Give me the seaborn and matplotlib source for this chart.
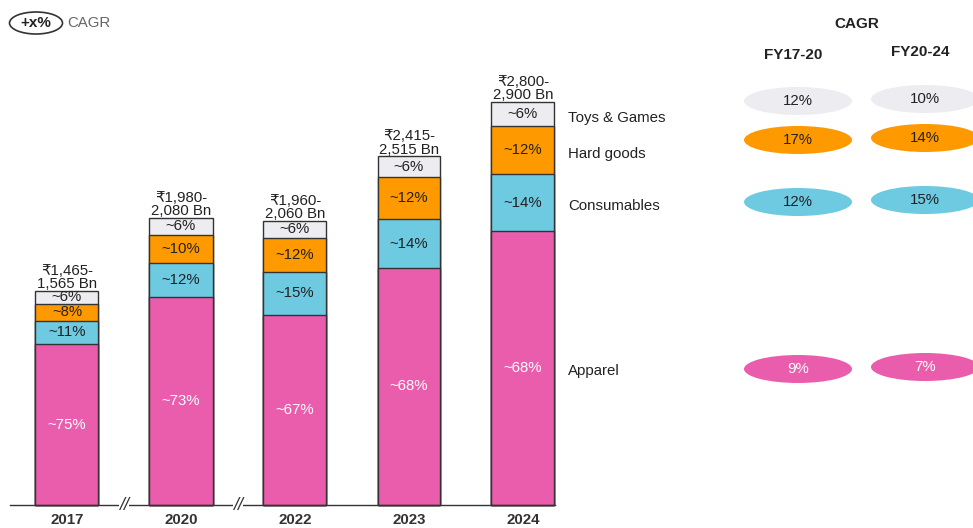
import matplotlib.pyplot as plt
import seaborn as sns
import numpy as np
from matplotlib.patches import Ellipse

# Data
years = ['2017', '2020', '2022', '2023', '2024']
size_low = [1465, 1980, 1960, 2415, 2800]
size_high = [1565, 2080, 2060, 2515, 2900]

# segment shares (%) bottom -> top
categories = ['Apparel', 'Consumables', 'Hard goods', 'Toys & Games']
apparel = [75, 73, 67, 68, 68]
consumables = [11, 12, 15, 14, 14]
hard_goods = [8, 10, 12, 12, 12]
toys_games = [6, 6, 6, 6, 6]

cagr_periods = ['FY17-20', 'FY20-24']
cagr_17_20 = [9, 12, 17, 12]   # apparel, consumables, hard goods, toys & games
cagr_20_24 = [7, 15, 14, 10]

colors = ['#EA5DAD', '#6DCAE1', '#FF9900', '#EDEDF1']
text_colors = ['white', '#222222', '#222222', '#222222']

sns.set_theme(style='white')
plt.rcParams['font.family'] = ['Liberation Sans', 'DejaVu Sans']
FS = 10.8

W, H = 973, 528
fig = plt.figure(figsize=(W / 100, H / 100), dpi=100)
ax = fig.add_axes([0, 0, 1, 1])

# stacked heights: shares scaled to mid-point of the market size range
mid = (np.array(size_low) + np.array(size_high)) / 2
shares = np.array([apparel, consumables, hard_goods, toys_games], dtype=float)
heights = shares / shares.sum(axis=0) * mid
cum = np.cumsum(heights, axis=0)

bar_w = 63 / 114
# draw from the tallest cumulative layer down so each segment sits on top
for i in range(3, -1, -1):
    sns.barplot(x=years, y=cum[i], order=years, color=colors[i], width=bar_w,
                edgecolor='#333333', linewidth=1, saturation=1, ax=ax)

# segment labels
for j in range(len(years)):
    for i in range(4):
        yc = cum[i, j] - heights[i, j] / 2
        ax.text(j, yc, f'~{int(shares[i, j])}%', ha='center', va='center',
                fontsize=FS, color=text_colors[i])
    ax.text(j, cum[3, j] - 2, f'₹{size_low[j]:,}-\n{size_high[j]:,} Bn',
            ha='center', va='bottom', fontsize=FS, color='#222222', linespacing=0.95)

# category names beside the last bar
for i in range(4):
    yc = cum[i, -1] - heights[i, -1] / 2
    ax.text(4.395, yc - 25, categories[i], ha='left', va='center', fontsize=FS, color='#222222')

# axes in pixel-like layout
ax.set_xlim(-67 / 114, (W - 67) / 114)
ax.set_ylim(-23 * 7.07, 505 * 7.07)
for s in ['top', 'left', 'right']:
    ax.spines[s].set_visible(False)
ax.spines['bottom'].set_position(('data', 0))
ax.spines['bottom'].set_bounds(-0.5, 4.28)
ax.spines['bottom'].set_color('#333333')
ax.spines['bottom'].set_linewidth(1)
ax.set_yticks([])
ax.set_xticks(range(len(years)))
ax.set_xticklabels(years, fontsize=FS, color='#333333', fontweight='bold')
ax.tick_params(axis='x', length=0, pad=6)
ax.set_xlabel('')
ax.set_ylabel('')

# axis break marks
for xb in [0.5, 1.5]:
    ax.text(xb, 0, '//', ha='center', va='center', fontsize=13, color='#333333',
            style='italic', bbox=dict(facecolor='white', edgecolor='none', pad=0.2))


def fx(px):
    return px / W


def fy(py):
    return 1 - py / H


# legend in the top-left corner
fig.add_artist(Ellipse((fx(36), fy(23)), 53 / W, 22 / H, transform=fig.transFigure,
                       facecolor='none', edgecolor='#333333', linewidth=1.2))
fig.text(fx(36), fy(23), '+x%', ha='center', va='center', fontsize=11, fontweight='bold', color='#222222')
fig.text(fx(67), fy(23), 'CAGR', ha='left', va='center', fontsize=FS, color='#666666')

# CAGR panel
fig.text(fx(857), fy(24), 'CAGR', ha='center', va='center', fontsize=11, fontweight='bold', color='#222222')
col_x = [798, 925]
col_head_y = [55, 52]
row_y = [[369, 202, 140, 101], [367, 200, 138, 99]]
for c, vals in enumerate([cagr_17_20, cagr_20_24]):
    fig.text(fx(col_x[c] - 5), fy(col_head_y[c]), cagr_periods[c], ha='center', va='center',
             fontsize=11, fontweight='bold', color='#222222')
    for i in range(4):
        fig.add_artist(Ellipse((fx(col_x[c]), fy(row_y[c][i])), 108 / W, 28 / H,
                               transform=fig.transFigure, facecolor=colors[i], edgecolor='none'))
        fig.text(fx(col_x[c]), fy(row_y[c][i]), f'{vals[i]}%', ha='center', va='center',
                 fontsize=FS, color=text_colors[i])

fig.savefig('out.png', dpi=100)
